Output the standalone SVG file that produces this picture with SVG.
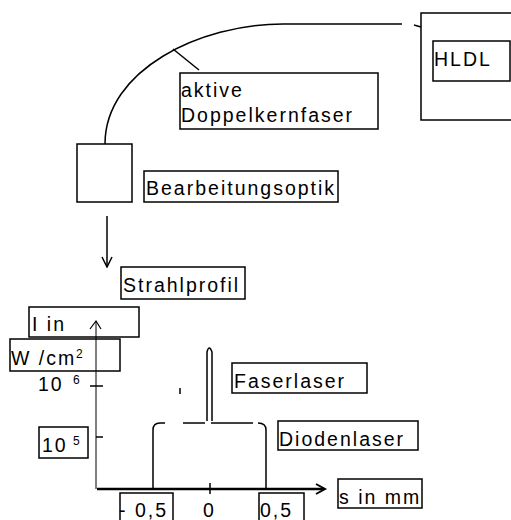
<svg xmlns="http://www.w3.org/2000/svg" width="511" height="520" viewBox="0 0 511 520">
<defs>
<style>
.box{fill:none;stroke:#000;stroke-width:1.5}
.ln{fill:none;stroke:#000;stroke-width:1.5}
.thin{fill:none;stroke:#000;stroke-width:1}
.t{font-family:"Liberation Sans",Arial,sans-serif;font-size:19.5px;letter-spacing:2px;fill:#000}
.sup{font-family:"Liberation Sans",Arial,sans-serif;font-size:12px;fill:#000}
</style>
<marker id="open" viewBox="0 0 12 12" refX="11" refY="6" markerWidth="12" markerHeight="12" markerUnits="userSpaceOnUse" orient="auto">
<path d="M1,1 L11,6 L1,11" fill="none" stroke="#000" stroke-width="1.5"/>
</marker>
</defs>
<rect width="511" height="520" fill="#fff"/>

<g id="connectors">
<path class="ln" d="M402,24 L283,24 C200,24 105,70 105,144"/>
<path class="ln" d="M414,25 L421,27"/>
<path class="ln" d="M173,49 L199,70"/>
<path class="ln" d="M107,216 L107,267" marker-end="url(#open)"/>
</g>

<g id="hldl">
<rect class="box" x="421" y="13" width="120" height="107"/>
<rect class="box" x="433" y="41" width="77" height="40"/>
<text class="t" x="434" y="66">HLDL</text>
</g>

<g id="fiber-label">
<rect class="box" x="180" y="73" width="198" height="56"/>
<text class="t" x="181" y="97">aktive</text>
<text class="t" x="181" y="122">Doppelkernfaser</text>
</g>

<g id="optic">
<rect class="box" x="77" y="144" width="55" height="58"/>
</g>

<g id="optic-label">
<rect class="box" x="144" y="171" width="194" height="31"/>
<text class="t" x="146" y="195">Bearbeitungsoptik</text>
</g>

<g id="profile-label">
<rect class="box" x="121" y="267" width="124" height="32"/>
<text class="t" x="123" y="292">Strahlprofil</text>
</g>

<g id="chart">
<path class="thin" d="M96,489 L96,321"/>
<path d="M90,329 L96,321 L101,329" fill="none" stroke="#000" stroke-width="1.2"/>
<path d="M97,489 L324,489" fill="none" stroke="#000" stroke-width="2.5"/>
<path d="M316,484 L325,489 L316,494" fill="none" stroke="#000" stroke-width="2"/>
<path class="ln" d="M90,386 L103,386"/>
<path class="ln" d="M96,437 L103,437"/>
<path class="ln" d="M210,483 L210,494"/>
<path class="ln" d="M153,489 L153,430 Q153,423 160,423 L165,423"/>
<path class="ln" d="M183,423 L205,423"/>
<path class="ln" d="M211,423 L253,423"/>
<path class="ln" d="M258,423 Q266,423 266,430 L266,489"/>
<path class="ln" d="M207,421 L207,352 Q209,344 212,352 L212,421"/>
<path class="ln" d="M180,388 L180,394"/>
</g>

<g id="axis-label-i">
<rect class="box" x="29" y="307" width="110" height="30"/>
<text class="t" x="32" y="331">I in</text>
</g>
<g id="axis-label-unit">
<rect class="box" x="10" y="339" width="110" height="32"/>
<text class="t" x="11" y="365">W /cm</text>
<text class="sup" x="76" y="358">2</text>
</g>
<g id="tick-1e6">
<text class="t" x="38" y="391">10</text>
<text class="sup" x="73" y="384">6</text>
</g>
<g id="tick-1e5">
<rect class="box" x="39" y="427" width="49" height="31"/>
<text class="t" x="42" y="452">10</text>
<text class="sup" x="73" y="445">5</text>
</g>
<g id="faserlaser">
<rect class="box" x="232" y="363" width="135" height="30"/>
<text class="t" x="234" y="388">Faserlaser</text>
</g>
<g id="diodenlaser">
<rect class="box" x="278" y="421" width="140" height="29"/>
<text class="t" x="279" y="446">Diodenlaser</text>
</g>
<g id="s-label">
<rect class="box" x="338" y="479" width="84" height="29"/>
<text class="t" x="339" y="504">s in mm</text>
</g>
<g id="x-neg">
<rect class="box" x="120" y="493" width="53" height="35"/>
<text class="t" x="119" y="517">- 0,5</text>
</g>
<g id="x-zero">
<text class="t" x="203" y="517">0</text>
</g>
<g id="x-pos">
<rect class="box" x="259" y="493" width="45" height="35"/>
<text class="t" x="260" y="517">0,5</text>
</g>
</svg>
